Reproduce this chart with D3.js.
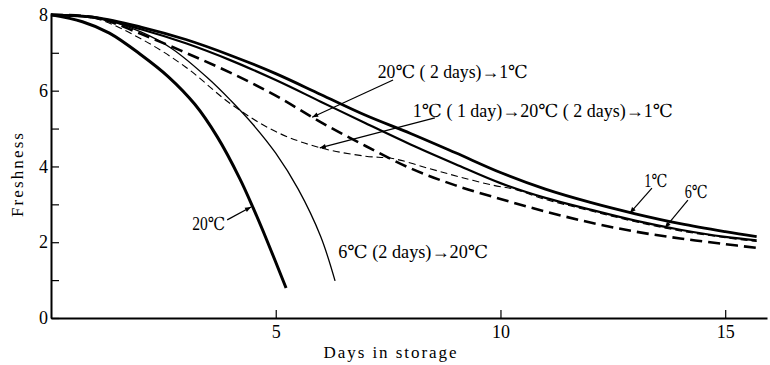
<!DOCTYPE html>
<html>
<head>
<meta charset="utf-8">
<script src="https://cdn.jsdelivr.net/npm/d3@7"></script>
<style>
body { margin: 0; background: #fff; }
svg text { font-family: "Liberation Serif", "DejaVu Serif", "Noto Sans CJK JP", serif; fill: #000; }
</style>
</head>
<body>
<div id="chart"></div>
<script>
var svgWidth = 770;
var svgHeight = 365;

var margin = {
    top: 13,
    right: 3,
    bottom: 47,
    left: 51
};

var plotWidth = svgWidth - margin.left - margin.right;
var plotHeight = svgHeight - margin.top - margin.bottom;

// curves (days, freshness)
var daysLong = [0, 1, 2, 3, 4, 5, 6, 7, 8, 9, 10, 11, 12, 13, 14, 15, 15.7];
var fresh1C = [8, 7.93, 7.68, 7.35, 6.93, 6.45, 5.9, 5.35, 4.87, 4.36, 3.84, 3.4, 3.05, 2.75, 2.49, 2.28, 2.15];
var fresh6C = [8, 7.92, 7.62, 7.25, 6.8, 6.28, 5.71, 5.14, 4.58, 4.06, 3.56, 3.17, 2.86, 2.57, 2.33, 2.14, 2.05];
var fresh20to1 = [8, 7.93, 7.5, 7.0, 6.47, 5.87, 5.17, 4.54, 3.95, 3.5, 3.14, 2.81, 2.52, 2.28, 2.1, 1.95, 1.85];

var days20C = [0, 0.7, 1.3, 2, 2.6, 3.2, 3.7, 4.2, 4.5, 4.8, 5.23];
var fresh20C = [8, 7.82, 7.52, 6.95, 6.38, 5.64, 4.78, 3.68, 2.9, 2.06, 0.79];

var days6to20 = [0, 1, 2, 2.7, 3.5, 4, 4.5, 5, 5.5, 6, 6.32];
var fresh6to20 = [8, 7.93, 7.55, 7.1, 6.32, 5.74, 5.1, 4.35, 3.4, 2.15, 0.98];

var days1to20to1 = [0, 1, 2, 3, 4, 5, 6, 7, 7.6, 8.4, 9.1, 9.85, 10.3, 11, 12, 13, 14, 15, 15.7];
var fresh1to20to1 = [8, 7.9, 7.37, 6.62, 5.65, 4.92, 4.49, 4.27, 4.21, 3.95, 3.72, 3.5, 3.4, 3.13, 2.83, 2.54, 2.3, 2.12, 2.02];

var xTicks = [5, 10, 15];
var yTicks = [0, 1, 2, 3, 4, 5, 6, 7, 8];

// labels: text, text start (day, freshness), arrow from, arrow to
var labelTexts = ["20℃ ( 2 days)→1℃", "1℃ ( 1 day)→20℃ ( 2 days)→1℃", "1℃", "6℃", "20℃", "6℃ (2 days)→20℃"];
var labelAt = [[7.27, 6.33], [8.05, 5.3], [13.2, 3.46], [14.1, 3.17], [3.14, 2.32], [6.39, 1.58]];
var labelWidth = [150, 260, 23, 23, 33, 150];
var arrowFrom = [[7.61, 6.28], [8.54, 5.28], [13.37, 3.43], [14.17, 3.11], [3.92, 2.59], null];
var arrowTo = [[5.81, 5.3], [5.98, 4.49], [12.88, 2.77], [13.66, 2.38], [4.45, 2.93], null];

var svg = d3.select("#chart")
    .append("svg")
    .attr("width", svgWidth)
    .attr("height", svgHeight);

svg.append("defs").append("marker")
    .attr("id", "head")
    .attr("viewBox", "0 0 10 10")
    .attr("refX", 10)
    .attr("refY", 5)
    .attr("markerWidth", 8)
    .attr("markerHeight", 6)
    .attr("markerUnits", "userSpaceOnUse")
    .attr("orient", "auto")
    .append("path")
    .attr("d", "M0,1L10,5L0,9Z")
    .attr("fill", "#000");

var plot = svg.append("g")
    .attr("transform", `translate(${margin.left},${margin.top})`);

var x = d3.scaleLinear().domain([0, 15.93]).range([0, plotWidth]);
var y = d3.scaleLinear().domain([0, 8.05]).range([plotHeight, 0]);

function pairs(xs, ys) {
    return xs.map((d, i) => [d, ys[i]]);
}

var series = [
    {pts: pairs(daysLong, fresh20to1), w: 2.6, dash: "12,6"},
    {pts: pairs(days1to20to1, fresh1to20to1), w: 1.1, dash: "7,4"},
    {pts: pairs(days6to20, fresh6to20), w: 1.3, dash: null},
    {pts: pairs(days20C, fresh20C), w: 3, dash: null},
    {pts: pairs(daysLong, fresh6C), w: 2.2, dash: null},
    {pts: pairs(daysLong, fresh1C), w: 2.8, dash: null}
];

var line = d3.line()
    .x(d => x(d[0]))
    .y(d => y(d[1]))
    .curve(d3.curveCatmullRom.alpha(0.5));

plot.selectAll("path.curve")
    .data(series)
    .enter()
    .append("path")
    .attr("class", "curve")
    .attr("d", d => line(d.pts))
    .attr("fill", "none")
    .attr("stroke", "#000")
    .attr("stroke-width", d => d.w)
    .attr("stroke-dasharray", d => d.dash);

// axes
var xAxis = plot.append("g")
    .attr("transform", `translate(0,${plotHeight})`)
    .call(d3.axisBottom(x).tickValues(xTicks).tickSizeInner(-8).tickSizeOuter(0).tickPadding(7));

var yAxis = plot.append("g")
    .call(d3.axisLeft(y).tickValues(yTicks)
        .tickFormat(d => d % 2 === 0 ? d : "")
        .tickSizeInner(-8).tickSizeOuter(0).tickPadding(3));

[xAxis, yAxis].forEach(function(a) {
    a.attr("font-family", null).attr("font-size", 18);
    a.select(".domain").attr("stroke-width", 2);
    a.selectAll(".tick line").attr("stroke-width", 1.2);
});

plot.append("text")
    .attr("x", 339)
    .attr("y", plotHeight + 40)
    .attr("text-anchor", "middle")
    .attr("font-size", 17)
    .attr("textLength", 133)
    .attr("lengthAdjust", "spacing")
    .text("Days in storage");

plot.append("text")
    .attr("transform", "rotate(-90)")
    .attr("x", -(175 - margin.top))
    .attr("y", -28)
    .attr("text-anchor", "middle")
    .attr("font-size", 17)
    .attr("textLength", 84)
    .attr("lengthAdjust", "spacing")
    .text("Freshness");

// labels with pointer arrows
labelTexts.forEach(function(t, i) {
    plot.append("text")
        .attr("x", x(labelAt[i][0]))
        .attr("y", y(labelAt[i][1]))
        .attr("font-size", 18)
        .attr("textLength", labelWidth[i])
        .attr("lengthAdjust", "spacingAndGlyphs")
        .text(t);
    if (arrowFrom[i]) {
        plot.append("line")
            .attr("x1", x(arrowFrom[i][0]))
            .attr("y1", y(arrowFrom[i][1]))
            .attr("x2", x(arrowTo[i][0]))
            .attr("y2", y(arrowTo[i][1]))
            .attr("stroke", "#000")
            .attr("stroke-width", 1.2)
            .attr("marker-end", "url(#head)");
    }
});
</script>
</body>
</html>
